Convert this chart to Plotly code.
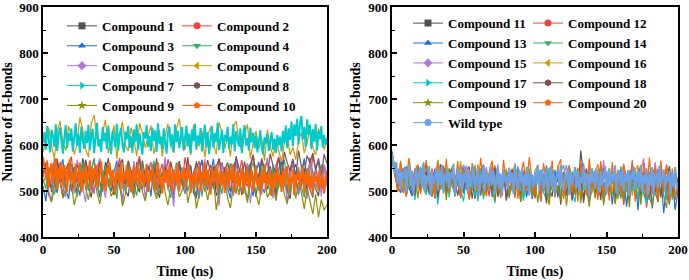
import numpy as np
import plotly.graph_objects as go

# ---------------- axis / tick values ----------------
TIME_START, TIME_END = 0, 200
Y_MIN, Y_MAX = 400, 900
X_TICKS = [0, 50, 100, 150, 200]
Y_TICKS = [400, 500, 600, 700, 800, 900]

# ---------------- left panel: H-bond counts (evenly sampled over 0-200 ns) ----------------
C1 = [530,561,544,498,512,567,521,489,503,549,558,536,494,517,571,540,508,486,533,552,
      519,499,563,545,527,491,510,556,569,502,488,538,550,515,497,566,529,506,543,560,
      514,485,524,557,539,501,493,548,565,520,507,531,555,496,484,542,568,523,511,537,
      553,490,505,562,534,516,499,547,570,526,492,509,546,559,518,487,535,564,541,504,
      522,551,495,513,567,532,500,483,544,558,527,510,549,497,572,536,505,489,541,553,515]
C2 = [562,541,507,525,570,549,518,496,533,558,575,512,529,547,503,566,539,521,494,551,
      568,534,509,556,527,500,543,572,515,538,561,498,520,553,576,531,508,545,563,524,
      502,537,559,517,569,546,497,528,554,511,573,540,519,506,548,565,523,499,535,557,
      530,513,571,544,504,526,560,552,493,539,567,521,510,550,577,532,516,501,545,564,
      528,507,555,574,536,518,497,548,569,525,503,542,566,530,512,578,549,520,505,557,536]
C3 = [511,478,534,560,522,496,547,569,505,483,538,553,517,490,562,528,501,544,571,513,
      486,531,557,520,499,541,566,508,481,535,550,524,493,563,515,504,546,530,488,558,
      539,512,497,568,526,507,482,543,561,519,494,533,555,510,487,549,564,521,502,536,
      570,514,491,529,552,506,484,545,567,523,498,532,559,517,489,541,563,509,496,537,
      554,525,480,547,568,513,501,534,560,518,492,540,571,527,503,486,551,564,516,499,530]
C4 = [526,505,551,539,492,517,563,530,498,546,557,512,487,534,561,521,503,548,567,515,
      494,529,555,508,541,520,483,552,536,500,564,525,511,490,545,559,518,502,537,566,
      523,496,540,554,509,485,531,562,514,543,550,499,527,506,565,533,488,547,519,538,
      504,558,528,493,544,516,560,535,497,522,549,510,482,541,563,527,501,553,518,536,
      491,557,524,507,546,568,513,495,539,530,552,509,486,545,561,520,503,534,558,517,525]
C5 = [533,556,501,478,545,520,562,509,487,550,527,494,568,539,512,476,553,530,498,541,
      571,516,485,548,524,503,559,535,470,544,518,497,565,528,507,552,481,536,561,511,
      490,547,523,574,502,531,466,555,519,540,496,563,526,508,549,483,537,570,514,499,
      543,521,468,558,532,505,546,489,566,517,501,538,560,474,529,551,511,492,545,572,
      520,484,557,534,506,548,471,539,563,513,497,552,527,482,568,531,509,545,488,556,510]
C6 = [584,612,637,598,571,629,652,606,588,641,620,579,603,660,633,591,574,647,665,615,
      596,628,655,582,609,643,570,623,651,600,587,638,611,576,648,626,594,617,642,581,
      605,632,575,619,646,598,584,635,657,608,590,624,578,644,612,597,631,573,621,639,
      602,580,649,627,593,616,575,640,652,609,586,622,645,571,604,630,592,615,566,633,
      598,575,612,586,563,606,621,579,595,568,610,627,583,604,641,596,578,636,619,590,612]
C7 = [605,628,590,641,612,584,633,619,596,645,587,622,638,600,581,615,643,593,626,609,
      636,586,618,647,598,624,583,640,611,592,630,604,644,589,617,635,582,621,648,597,
      613,585,639,608,627,591,642,603,580,631,616,595,646,588,623,637,600,584,629,612,
      641,594,619,583,634,606,645,590,625,601,579,628,614,643,596,620,587,638,609,632,
      585,647,602,618,591,636,611,581,627,640,598,623,584,645,606,631,593,617,639,588,
      612,642,597,625,582,634,608,646,590,621,603,637,586,619,644,595,628,580,613,641,
      594,626,607,648,589,616,633,583,622,609,639,592,618,601,645,586,630,611,597,636,
      582,624,643,599,615,588,638,605,627,593,620,584,611,632,596,579,617,603,625,587,
      608,628,590,614,583,622,599,618,586,631,604,642,593,636,611,651,598,645,620,657,
      601,648,663,612,639,595,656,623,644,591,635,607,646,588,629,613,641,594,622,600,615]
C8 = [538,561,520,507,553,570,531,514,546,562,499,528,557,541,517,568,535,505,550,526,
      563,511,539,572,523,502,548,559,530,515,566,544,508,533,569,521,510,555,540,527,
      571,506,537,552,519,564,532,513,558,545,528,574,516,539,561,548,522,533,567,541,
      509,553,570,527,544,562,531,518,576,549,536,564,520,557,579,538,528,571,546,533,
      581,555,540,572,526,585,561,544,569,531,588,552,538,577,560,583,545,571,534,580,560]
C9 = [518,532,491,476,509,541,523,484,499,537,513,470,495,528,544,506,481,520,535,497,
      472,511,539,525,488,503,543,516,467,492,530,508,485,522,540,499,478,514,536,503,
      483,527,542,496,469,510,531,519,487,501,538,474,505,526,462,493,533,512,480,517,
      529,459,498,520,536,485,463,509,527,491,541,503,475,518,532,494,470,512,538,486,
      500,527,479,515,535,492,473,508,530,484,520,496,461,507,478,450,493,443,482,458,470]
C10 = [574,552,531,566,508,545,560,519,538,571,503,549,527,563,512,556,534,498,547,568,
       521,540,505,559,533,514,562,497,544,528,555,510,537,566,502,548,523,558,536,507,
       541,564,515,529,499,551,538,561,511,546,527,493,553,535,517,560,504,542,526,557,
       509,549,532,496,555,520,540,563,505,534,546,512,528,559,498,543,521,553,537,501,
       538,562,514,531,494,550,526,545,508,557,522,503,547,534,516,561,499,540,529,552,
       511,544,525,558,495,537,519,549,506,533,554,500,541,523,562,509,546,530,492,551,
       518,536,557,504,528,547,513,539,496,555,531,507,548,522,559,497,535,544,510,527,
       550,493,539,517,553,505,532,546,501,524,556,511,529,495,543,520,558,503,537,514,
       548,489,526,541,507,552,519,534,498,545,512,538,554,502,530,517,547,491,536,523,
       544,508,527,553,496,539,515,549,504,531,490,542,520,533,501,547,511,528,494,537,518]

# ---------------- right panel ----------------
C11 = [568,542,511,496,530,553,507,489,544,521,535,556,502,518,547,484,527,558,510,495,
       539,550,517,490,532,555,503,521,546,486,513,541,557,498,525,508,551,534,487,519,
       544,500,529,553,511,493,538,522,547,483,516,549,531,499,555,506,488,536,520,545,
       497,528,552,514,540,492,588,533,505,518,546,489,527,554,510,498,541,523,537,486,
       550,515,503,543,529,491,534,555,507,520,482,539,548,512,496,531,550,502,525,540,521]
C12 = [584,548,515,529,497,540,556,508,489,533,551,522,494,545,517,536,487,553,512,501,
       547,525,491,538,555,506,519,484,542,530,498,549,514,527,488,553,509,536,495,521,
       544,502,531,485,550,517,496,539,528,507,490,546,523,512,553,481,535,519,498,544,
       527,506,540,488,551,515,492,534,549,478,503,539,521,486,548,512,495,536,474,520,
       543,470,509,531,550,496,483,527,541,464,515,538,499,476,546,522,489,533,506,481,510]
C13 = [586,543,508,520,495,552,531,489,547,514,503,539,558,497,524,485,541,512,550,492,
       529,546,501,517,488,555,534,506,540,483,522,548,494,511,537,487,551,503,526,544,
       479,532,509,553,498,520,541,486,515,535,503,548,477,529,540,493,510,546,486,521,
       537,499,554,483,526,511,545,480,532,497,548,490,518,536,476,505,544,471,527,513,
       484,539,466,521,508,538,458,531,495,478,542,462,519,500,536,452,514,470,529,459,500]
C14 = [576,538,505,552,519,493,547,526,509,557,498,535,548,512,488,544,529,503,555,517,
       495,540,522,551,486,534,509,546,500,557,478,523,542,505,537,516,554,492,531,511,
       547,497,526,560,507,520,489,543,533,515,498,552,528,506,547,484,535,519,501,541,
       556,513,494,538,524,549,483,530,510,545,502,536,488,553,521,507,544,492,529,540,
       499,557,515,486,534,550,505,527,494,541,512,552,498,530,545,507,521,555,493,536,520]
C15 = [571,533,510,553,497,540,560,519,494,546,525,555,500,537,516,489,562,531,507,541,
       498,551,523,514,491,557,536,505,543,519,548,490,528,552,503,538,515,558,499,532,
       493,545,521,507,554,533,496,541,512,488,527,556,505,538,497,549,520,511,543,492,
       530,557,508,536,494,545,502,560,491,527,549,506,538,513,567,497,529,542,503,490,
       521,556,498,533,559,511,486,545,571,504,537,496,563,518,544,493,558,500,531,489,522]
C16 = [579,551,514,566,503,540,571,521,498,557,509,563,530,512,548,501,568,536,517,545,
       495,554,526,511,565,499,538,547,508,493,558,531,514,546,502,541,556,497,524,510,
       549,488,533,559,505,538,496,552,519,500,544,557,506,531,494,549,523,487,555,512,
       540,503,545,492,528,551,484,537,508,553,496,542,558,505,489,533,550,499,527,482,
       554,516,503,541,490,546,556,485,529,502,538,493,549,486,543,500,557,495,520,488,515]
C17 = [573,540,503,527,548,489,515,542,480,533,553,506,492,539,511,546,471,524,508,550,
       486,531,498,545,504,477,536,521,548,490,513,547,482,529,539,509,474,552,496,520,
       541,487,535,493,549,505,479,526,544,500,488,533,546,497,481,551,517,503,540,485,
       494,537,548,499,476,532,545,502,517,483,549,495,528,536,480,543,504,523,531,487,
       547,478,519,545,500,534,485,551,493,474,538,546,489,529,498,541,481,533,494,548,505]
C18 = [571,540,509,523,550,496,537,515,490,555,504,531,541,493,519,548,485,536,552,499,
       507,549,488,525,534,495,544,553,483,520,538,491,546,506,529,500,551,487,513,542,
       481,526,548,496,537,476,543,513,502,531,484,550,492,535,473,519,546,498,534,470,
       541,490,522,479,545,501,532,474,547,488,536,493,528,480,550,512,499,541,485,526,
       546,495,537,483,549,506,540,489,521,545,481,532,498,548,486,539,503,552,490,542,515]
C19 = [566,538,501,522,545,490,531,507,549,484,534,517,498,546,487,523,531,503,542,480,
       550,512,495,536,489,544,529,482,520,548,497,537,488,543,506,530,478,547,499,515,
       539,485,527,494,546,476,533,505,549,490,518,475,538,531,496,470,545,486,512,479,
       538,468,524,542,491,547,473,533,505,466,540,484,521,547,469,531,488,543,472,510,
       537,478,534,465,546,496,539,470,527,549,486,467,531,476,541,490,463,536,481,547,500]
C20 = [579,538,498,563,520,487,571,503,545,557,493,531,567,510,549,486,562,525,500,570,
       495,548,512,565,484,539,553,481,561,528,497,572,517,489,542,566,502,550,485,568,
       510,544,499,557,483,535,564,496,574,521,491,546,478,560,515,501,566,488,552,569,
       482,533,556,497,547,476,562,519,490,571,507,545,480,565,493,536,479,563,500,546,
       484,559,522,492,568,477,550,503,561,486,573,494,552,481,566,498,557,475,549,491,515]
WT = [580,556,538,563,515,549,502,541,527,553,498,535,558,511,544,493,530,551,507,539,
      547,509,560,497,533,520,554,490,542,516,529,552,501,545,513,557,495,536,524,548,
      505,540,526,559,492,531,550,512,543,500,537,519,555,494,546,508,533,553,503,528,
      549,491,535,517,557,499,541,525,510,554,514,544,496,530,552,506,538,489,547,521,
      533,505,551,518,540,493,555,527,501,545,520,548,497,536,511,553,490,539,529,508,
      542,515,556,500,534,547,504,524,550,493,528,553,509,539,495,531,546,512,557,518,
      501,537,523,549,491,541,514,533,552,506,545,496,530,517,555,502,538,527,488,548,
      519,541,504,550,526,497,543,511,535,554,492,532,548,513,539,521,556,494,530,545,
      510,551,499,536,520,546,489,538,525,553,503,529,544,508,557,498,534,517,549,491,
      537,512,550,495,531,542,506,555,515,527,547,500,533,521,544,492,539,510,552,504,518]

LEFT_NAMES = ["Compound 1", "Compound 2", "Compound 3", "Compound 4", "Compound 5",
              "Compound 6", "Compound 7", "Compound 8", "Compound 9", "Compound 10"]
RIGHT_NAMES = ["Compound 11", "Compound 12", "Compound 13", "Compound 14", "Compound 15",
               "Compound 16", "Compound 17", "Compound 18", "Compound 19", "Compound 20",
               "Wild type"]
LEFT_VALUES = [C1, C2, C3, C4, C5, C6, C7, C8, C9, C10]
RIGHT_VALUES = [C11, C12, C13, C14, C15, C16, C17, C18, C19, C20, WT]

PALETTE = ["#515151", "#F14040", "#1A6FDF", "#37AD6B", "#B177DE",
           "#CC9900", "#00CBCC", "#7D4E4E", "#8E8E00", "#FB6501", "#6CA2EA"]
SYMBOLS = ["square", "circle", "triangle-up", "triangle-down", "diamond",
           "triangle-left", "triangle-right", "hexagon", "star", "pentagon", "circle"]

FONT = "Liberation Serif"
fig = go.Figure()


def add_panel(names, values, xa, ya, leg_a, leg_b):
    for i, (nm, vals) in enumerate(zip(names, values)):
        t = np.linspace(TIME_START, TIME_END, len(vals))
        lw = 2.0 if len(vals) > 150 else 1.2   # densely sampled series drawn a bit heavier
        fig.add_trace(go.Scatter(x=t, y=vals, mode="lines", name=nm,
                                 line=dict(color=PALETTE[i], width=lw),
                                 showlegend=False, xaxis=xa, yaxis=ya,
                                 hoverinfo="skip"))
    for i, nm in enumerate(names):
        leg = leg_a if (i % 2 == 0 or i == 10) else leg_b
        fig.add_trace(go.Scatter(x=[None], y=[None], mode="lines+markers", name=nm,
                                 line=dict(color=PALETTE[i], width=1),
                                 marker=dict(symbol=SYMBOLS[i], size=7, color=PALETTE[i]),
                                 legend=leg, xaxis=xa, yaxis=ya))


add_panel(LEFT_NAMES, LEFT_VALUES, "x", "y", "legend", "legend2")
add_panel(RIGHT_NAMES, RIGHT_VALUES, "x2", "y2", "legend3", "legend4")

W, H = 689, 280
ML, MR, MT, MB = 43, 11, 7, 43
PW = W - ML - MR


def px2paper(px):
    return (px - ML) / PW


axis_common = dict(showline=True, mirror=True, linecolor="black", linewidth=1.5,
                   ticks="inside", ticklen=5, tickwidth=1.5, tickcolor="black",
                   showgrid=False, zeroline=False, automargin=False,
                   ticklabeloverflow="allow",
                   tickfont=dict(family=FONT, size=13, color="black", weight="bold"))

xa = dict(axis_common, range=[TIME_START, TIME_END], tickvals=X_TICKS,
          minor=dict(ticks="inside", ticklen=3, tickwidth=1, tickcolor="black", dtick=25),
          title=dict(text="Time (ns)", standoff=11,
                     font=dict(family=FONT, size=14, color="black", weight="bold")))
ya = dict(axis_common, range=[Y_MIN, Y_MAX], tickvals=Y_TICKS,
          minor=dict(ticks="inside", ticklen=3, tickwidth=1, tickcolor="black", dtick=50),
          title=dict(text="Number of H-bonds", standoff=4,
                     font=dict(family=FONT, size=14, color="black", weight="bold")))

leg_common = dict(bgcolor="rgba(0,0,0,0)", borderwidth=0, xanchor="left", yanchor="top",
                  itemwidth=30, tracegroupgap=0, orientation="v",
                  font=dict(family=FONT, size=13, color="black", weight="bold"))

fig.update_layout(
    width=W, height=H,
    margin=dict(l=ML, r=MR, t=MT, b=MB, autoexpand=False),
    paper_bgcolor="white", plot_bgcolor="white",
    font=dict(family=FONT, size=13, color="black", weight="bold"),
    xaxis=dict(xa, domain=[0, px2paper(327)], anchor="y"),
    yaxis=dict(ya, domain=[0, 1], anchor="x"),
    xaxis2=dict(xa, domain=[px2paper(392), 1], anchor="y2"),
    yaxis2=dict(ya, domain=[0, 1], anchor="x2"),
    legend=dict(leg_common, x=px2paper(62), y=0.983),
    legend2=dict(leg_common, x=px2paper(177), y=0.983),
    legend3=dict(leg_common, x=px2paper(408), y=0.995),
    legend4=dict(leg_common, x=px2paper(528), y=0.995),
    showlegend=True,
)

fig.write_html("out.html", config={"displayModeBar": False},
               post_script="document.body.style.margin='0px';document.body.style.overflow='hidden';")
